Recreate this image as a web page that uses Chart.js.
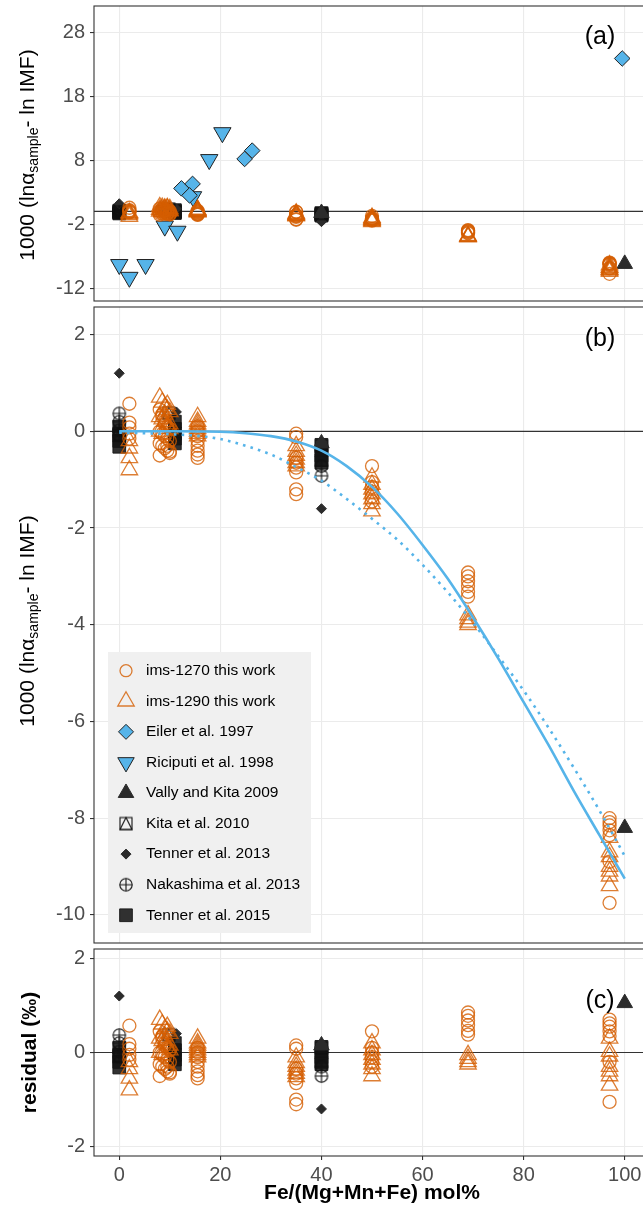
<!DOCTYPE html>
<html>
<head>
<meta charset="utf-8">
<script src="https://cdn.jsdelivr.net/npm/chart.js@4.4.1/dist/chart.umd.min.js"></script>
<style>
  html, body { margin: 0; padding: 0; background: #fff; overflow: hidden; }
  #wrap { position: relative; width: 643px; height: 1210px; overflow: hidden;
          font-family: 'Liberation Sans', Arial, Helvetica, sans-serif; }
  canvas.panel { position: absolute; left: 0; }
  .ytitle { position: absolute; transform: translate(-50%, -50%) rotate(-90deg);
            white-space: nowrap; font-size: 21px; color: #000; }
  .ytitle sub { font-size: 14px; vertical-align: -4px; line-height: 0; }
  .tag { position: absolute; transform: translate(-50%, -50%); font-size: 25px; color: #000; }
</style>
</head>
<body>
<div id="wrap">
  <canvas id="chartA" class="panel" width="660" height="304" style="top:0px"></canvas>
  <canvas id="chartB" class="panel" width="660" height="642" style="top:304px"></canvas>
  <canvas id="chartC" class="panel" width="660" height="264" style="top:946px"></canvas>
  <div class="ytitle" style="left:27px; top:155px">1000 (lnα<sub>sample</sub>- ln IMF)</div>
  <div class="ytitle" style="left:27px; top:621px">1000 (lnα<sub>sample</sub>- ln IMF)</div>
  <div class="tag" style="left:600px; top:35px">(a)</div>
  <div class="tag" style="left:600px; top:337px">(b)</div>
  <div class="tag" style="left:600px; top:999px">(c)</div>
</div>
<script>
const FONT = "'Liberation Sans', Arial, Helvetica, sans-serif";

// tick labels
const xTicks = [0, 20, 40, 60, 80, 100];
const yTicksA = [-12, -2, 8, 18, 28];
const yTicksB = [-10, -8, -6, -4, -2, 0, 2];
const yTicksC = [-2, 0, 2];

// ims-1270 this work
const ims1270X = [2, 2, 2, 2, 2,
  8, 8.5, 9, 9.5, 10, 8, 8.5, 9, 9.5, 10, 8, 8.5, 9, 9.5, 10, 8, 8.5, 9, 9.5, 10,
  15.5, 15.5, 15.5, 15.5, 15.5, 15.5, 15.5, 15.5,
  35, 35, 35, 35, 35, 35, 35, 35,
  50, 50, 50, 50, 50, 50,
  69, 69, 69, 69, 69, 69,
  97, 97, 97, 97, 97, 97, 97];
const ims1270Y = [0.57, 0.18, 0.08, -0.05, -0.15,
  0.45, 0.3, 0.2, 0.1, 0.05, 0, -0.05, -0.1, -0.15, -0.2, -0.25, -0.3, -0.35, -0.4, -0.45, -0.5, 0.35, 0.15, -0.3, -0.42,
  0.1, 0, -0.1, -0.2, -0.3, -0.4, -0.48, -0.55,
  -0.05, -0.12, -0.55, -0.65, -0.75, -0.85, -1.2, -1.3,
  -0.72, -1.05, -1.15, -1.25, -1.35, -1.45,
  -2.92, -3.0, -3.1, -3.2, -3.32, -3.42,
  -8.0, -8.08, -8.15, -8.25, -8.35, -8.9, -9.75];
const ims1270Res = [0.57, 0.18, 0.08, -0.05, -0.15,
  0.45, 0.3, 0.2, 0.1, 0.05, 0, -0.05, -0.1, -0.15, -0.2, -0.25, -0.3, -0.35, -0.4, -0.45, -0.5, 0.35, 0.15, -0.3, -0.42,
  0.1, 0, -0.1, -0.2, -0.3, -0.4, -0.48, -0.55,
  0.15, 0.08, -0.35, -0.45, -0.55, -0.65, -1.0, -1.1,
  0.45, 0.1, 0, -0.1, -0.2, -0.3,
  0.85, 0.78, 0.68, 0.58, 0.46, 0.38,
  0.7, 0.62, 0.55, 0.45, 0.35, -0.2, -1.05];

// ims-1290 this work
const ims1290X = [2, 2, 2, 2,
  8, 8.5, 9, 9.5, 10, 8, 8.5, 9, 9.5, 10, 8, 8.5, 9, 9.5, 10,
  15.5, 15.5, 15.5, 15.5, 15.5, 15.5, 15.5, 15.5,
  35, 35, 35, 35, 35, 35,
  50, 50, 50, 50, 50, 50, 50,
  69, 69, 69, 69,
  97, 97, 97, 97, 97, 97, 97];
const ims1290Y = [-0.2, -0.35, -0.55, -0.8,
  0.7, 0.6, 0.5, 0.45, 0.4, 0.3, 0.25, 0.2, 0.1, 0.05, 0, -0.05, 0.35, 0.55, 0.15,
  0.3, 0.2, 0.15, 0.1, 0.05, 0, -0.05, -0.1,
  -0.3, -0.42, -0.5, -0.58, -0.65, -0.72,
  -0.95, -1.1, -1.2, -1.3, -1.4, -1.5, -1.65,
  -3.8, -3.88, -3.95, -4.0,
  -8.4, -8.7, -8.8, -9.0, -9.1, -9.2, -9.4];
const ims1290Res = [-0.2, -0.35, -0.55, -0.8,
  0.7, 0.6, 0.5, 0.45, 0.4, 0.3, 0.25, 0.2, 0.1, 0.05, 0, -0.05, 0.35, 0.55, 0.15,
  0.3, 0.2, 0.15, 0.1, 0.05, 0, -0.05, -0.1,
  -0.1, -0.22, -0.3, -0.38, -0.45, -0.52,
  0.2, 0.05, -0.05, -0.15, -0.25, -0.35, -0.5,
  -0.05, -0.13, -0.2, -0.25,
  0.3, 0.02, -0.08, -0.3, -0.4, -0.5, -0.7];

// literature data, only shown in (a)
const eilerX = [12.3, 14.5, 13.9, 24.8, 26.3, 99.5];
const eilerY = [3.6, 4.3, 2.5, 8.2, 9.5, 23.9];
const riciputiX = [0, 2, 5.2, 9, 9.1, 11.5, 14.6, 17.8, 20.4];
const riciputiY = [-8.3, -10.3, -8.3, -2.3, 0.2, -3.1, 2.3, 8.1, 12.3];

const vallyX = [40, 100];
const vallyY = [-0.25, -8.2];
const vallyRes = [0.15, 1.05];

const kitaX = [0, 9.8, 40];
const kitaY = [-0.08, 0.38, -0.3];
const kitaRes = [-0.08, 0.38, 0.1];

const tenner13X = [0, 11.3, 40];
const tenner13Y = [1.2, 0.4, -1.6];
const tenner13Res = [1.2, 0.4, -1.2];

const nakashimaX = [0, 0, 0, 0, 40, 40];
const nakashimaY = [0.37, 0.2, 0.02, -0.08, -0.72, -0.92];
const nakashimaRes = [0.37, 0.2, 0.02, -0.08, -0.3, -0.5];

const tenner15X = [0, 0, 0, 0, 11, 11, 11, 11, 11, 40, 40, 40, 40, 40];
const tenner15Y = [0.1, -0.05, -0.2, -0.32, 0.2, 0.05, -0.05, -0.15, -0.25, -0.28, -0.4, -0.5, -0.6, -0.65];
const tenner15Res = [0.1, -0.05, -0.2, -0.32, 0.2, 0.05, -0.05, -0.15, -0.25, 0.12, 0, -0.1, -0.2, -0.25];

// calibration curves in (b)
const fitX = [0, 10, 20, 25, 30, 35, 40, 45, 50, 55, 60, 65, 70, 75, 80, 85, 90, 95, 100];
const fitY = [0, 0, -0.01, -0.04, -0.1, -0.21, -0.4, -0.72, -1.15, -1.7, -2.35, -3.05, -3.85, -4.7, -5.6, -6.5, -7.45, -8.35, -9.25];
const altFitX = [0, 5, 10, 15, 20, 25, 30, 35, 40, 45, 50, 55, 60, 65, 70, 75, 80, 85, 90, 95, 100];
const altFitY = [-0.03, -0.04, -0.06, -0.09, -0.16, -0.3, -0.48, -0.74, -1.02, -1.4, -1.81, -2.24, -2.76, -3.33, -3.96, -4.65, -5.36, -6.14, -6.97, -7.84, -8.78];

// symbols that Chart.js does not have built in
function makeSymbol(size, draw) {
  const c = document.createElement('canvas');
  c.width = c.height = size;
  const g = c.getContext('2d');
  g.strokeStyle = '#111';
  g.lineWidth = 1.1;
  draw(g, size / 2);
  return c;
}
const circlePlus = makeSymbol(16, (g, m) => {
  g.beginPath(); g.arc(m, m, 6.2, 0, Math.PI * 2); g.stroke();
  g.beginPath();
  g.moveTo(m - 6.2, m); g.lineTo(m + 6.2, m);
  g.moveTo(m, m - 6.2); g.lineTo(m, m + 6.2);
  g.stroke();
});
const squareTriangle = makeSymbol(16, (g, m) => {
  g.strokeRect(m - 6, m - 6, 12, 12);
  g.beginPath();
  g.moveTo(m, m - 6); g.lineTo(m - 6, m + 6); g.lineTo(m + 6, m + 6); g.closePath();
  g.stroke();
});

const ORANGE = 'rgba(213,94,0,0.8)';
const BLUE = '#56B4E9';
const DARK = '#2b2b2b';

const styles = {
  ims1270: { pointStyle: 'circle', radius: 6.5, backgroundColor: 'rgba(0,0,0,0)', borderColor: ORANGE, borderWidth: 1.3, legendRadius: 6 },
  ims1290: { pointStyle: 'triangle', radius: 9.5, backgroundColor: 'rgba(0,0,0,0)', borderColor: ORANGE, borderWidth: 1.3, legendRadius: 9.5 },
  eiler: { pointStyle: 'rectRot', radius: 7.8, backgroundColor: BLUE, borderColor: '#222', borderWidth: 1, legendRadius: 7.5 },
  riciputi: { pointStyle: 'triangle', rotation: 180, radius: 10, backgroundColor: BLUE, borderColor: '#222', borderWidth: 1, legendRadius: 9.5 },
  vally: { pointStyle: 'triangle', radius: 9, backgroundColor: DARK, borderColor: DARK, borderWidth: 1, legendRadius: 9 },
  kita: { pointStyle: squareTriangle, radius: 7, backgroundColor: 'rgba(0,0,0,0)', borderColor: '#111', borderWidth: 1, legendRadius: 7 },
  tenner13: { pointStyle: 'rectRot', radius: 5, backgroundColor: DARK, borderColor: DARK, borderWidth: 1, legendRadius: 5 },
  nakashima: { pointStyle: circlePlus, radius: 7, backgroundColor: 'rgba(0,0,0,0)', borderColor: '#111', borderWidth: 1, legendRadius: 7 },
  tenner15: { pointStyle: 'rect', radius: 9, backgroundColor: 'rgba(20,20,20,0.88)', borderColor: 'rgba(20,20,20,0.88)', borderWidth: 1, legendRadius: 9 }
};

const legendItems = [
  ['ims-1270 this work', styles.ims1270],
  ['ims-1290 this work', styles.ims1290],
  ['Eiler et al. 1997', styles.eiler],
  ['Riciputi et al. 1998', styles.riciputi],
  ['Vally and Kita 2009', styles.vally],
  ['Kita et al. 2010', styles.kita],
  ['Tenner et al. 2013', styles.tenner13],
  ['Nakashima et al. 2013', styles.nakashima],
  ['Tenner et al. 2015', styles.tenner15]
];

function pts(xs, ys) {
  return xs.map((x, i) => ({ x: x, y: ys[i] }));
}

function scatterSet(label, xs, ys, st) {
  return {
    type: 'scatter',
    label: label,
    data: pts(xs, ys),
    pointStyle: st.pointStyle,
    rotation: st.rotation || 0,
    pointRadius: st.radius,
    backgroundColor: st.backgroundColor,
    borderColor: st.borderColor,
    borderWidth: st.borderWidth,
    order: 5
  };
}

// panel frame and the zero reference line
const panelFrame = {
  id: 'panelFrame',
  beforeDatasetsDraw(chart) {
    const { ctx, chartArea: a, scales: { y } } = chart;
    const py = y.getPixelForValue(0);
    ctx.save();
    ctx.strokeStyle = '#333';
    ctx.lineWidth = 1.2;
    ctx.beginPath();
    ctx.moveTo(a.left, py);
    ctx.lineTo(a.right, py);
    ctx.stroke();
    ctx.restore();
  },
  afterDraw(chart) {
    const { ctx, chartArea: a } = chart;
    ctx.save();
    ctx.strokeStyle = '#333';
    ctx.lineWidth = 1.1;
    ctx.strokeRect(a.left, a.top, a.right - a.left, a.bottom - a.top);
    ctx.restore();
  }
};

// legend box drawn inside panel (b)
const legendBox = {
  id: 'legendBox',
  afterDraw(chart) {
    const ctx = chart.ctx;
    const left = 108, top = 348, width = 203, height = 281;
    ctx.save();
    ctx.fillStyle = '#f0f0f0';
    ctx.fillRect(left, top, width, height);
    legendItems.forEach(([label, st], i) => {
      const cy = top + 18.7 + i * 30.57;
      ctx.fillStyle = st.backgroundColor;
      ctx.strokeStyle = st.borderColor;
      ctx.lineWidth = st.borderWidth;
      Chart.helpers.drawPoint(ctx, {
        pointStyle: st.pointStyle,
        radius: st.legendRadius,
        rotation: st.rotation || 0,
        borderWidth: st.borderWidth
      }, left + 18, cy);
      ctx.fillStyle = '#000';
      ctx.font = '15.5px ' + FONT;
      ctx.textBaseline = 'middle';
      ctx.textAlign = 'left';
      ctx.fillText(label, left + 38, cy);
    });
    ctx.restore();
  }
};

function setTicks(values) {
  return scale => { scale.ticks = values.map(v => ({ value: v })); };
}

// keep tick labels from pushing the plot area around
function noEdgePadding(s) {
  s.paddingTop = 0;
  s.paddingBottom = 0;
  s.paddingLeft = 0;
  s.paddingRight = 0;
}

function xScale(showLabels) {
  return {
    type: 'linear',
    min: -5,
    max: 105,
    afterBuildTicks: setTicks(xTicks),
    afterFit: s => { s.height = showLabels ? 54 : 0; noEdgePadding(s); },
    border: { display: false },
    grid: { color: '#ebebeb', lineWidth: 1.1, drawTicks: showLabels, tickColor: '#333', tickLength: 4 },
    ticks: {
      display: showLabels,
      color: '#4d4d4d',
      padding: 3,
      maxRotation: 0,
      font: { family: FONT, size: 20 }
    },
    title: {
      display: showLabels,
      text: 'Fe/(Mg+Mn+Fe) mol%',
      color: '#000',
      font: { family: FONT, size: 21, weight: 'bold' },
      padding: { top: 0, bottom: 4 }
    }
  };
}

function yScale(min, max, ticks, title) {
  return {
    type: 'linear',
    min: min,
    max: max,
    afterBuildTicks: setTicks(ticks),
    afterFit: s => { s.width = 94; noEdgePadding(s); },
    border: { display: false },
    grid: { color: '#ebebeb', lineWidth: 1.1, tickColor: '#333', tickLength: 4 },
    ticks: {
      color: '#4d4d4d',
      padding: 5,
      font: { family: FONT, size: 20 }
    },
    title: {
      display: !!title,
      text: title || '',
      color: '#000',
      font: { family: FONT, size: 21, weight: 'bold' },
      padding: { top: 18, bottom: 0 }
    }
  };
}

function options(padTop, padBottom, x, y) {
  return {
    responsive: false,
    animation: false,
    events: [],
    layout: { autoPadding: false, padding: { top: padTop, right: 10, bottom: padBottom, left: 0 } },
    plugins: { legend: { display: false }, tooltip: { enabled: false } },
    scales: { x: x, y: y }
  };
}

function fitLine(xs, ys, dashed) {
  return {
    type: 'line',
    data: pts(xs, ys),
    borderColor: BLUE,
    borderWidth: 2.6,
    borderDash: dashed ? [2.6, 5.2] : [],
    pointRadius: 0,
    cubicInterpolationMode: 'monotone',
    fill: false,
    order: 1
  };
}

// (a) all data
new Chart(document.getElementById('chartA'), {
  type: 'scatter',
  data: {
    datasets: [
      scatterSet('ims-1270 this work', ims1270X, ims1270Y, styles.ims1270),
      scatterSet('ims-1290 this work', ims1290X, ims1290Y, styles.ims1290),
      scatterSet('Vally and Kita 2009', vallyX, vallyY, styles.vally),
      scatterSet('Kita et al. 2010', kitaX, kitaY, styles.kita),
      scatterSet('Tenner et al. 2013', tenner13X, tenner13Y, styles.tenner13),
      scatterSet('Nakashima et al. 2013', nakashimaX, nakashimaY, styles.nakashima),
      scatterSet('Tenner et al. 2015', tenner15X, tenner15Y, styles.tenner15),
      scatterSet('Eiler et al. 1997', eilerX, eilerY, styles.eiler),
      scatterSet('Riciputi et al. 1998', riciputiX, riciputiY, styles.riciputi)
    ]
  },
  options: options(6, 3, xScale(false), yScale(-14.0, 32.1, yTicksA)),
  plugins: [panelFrame]
});

// (b) without Eiler and Riciputi, with the two calibration curves
new Chart(document.getElementById('chartB'), {
  type: 'scatter',
  data: {
    datasets: [
      scatterSet('ims-1270 this work', ims1270X, ims1270Y, styles.ims1270),
      scatterSet('ims-1290 this work', ims1290X, ims1290Y, styles.ims1290),
      scatterSet('Vally and Kita 2009', vallyX, vallyY, styles.vally),
      scatterSet('Kita et al. 2010', kitaX, kitaY, styles.kita),
      scatterSet('Tenner et al. 2013', tenner13X, tenner13Y, styles.tenner13),
      scatterSet('Nakashima et al. 2013', nakashimaX, nakashimaY, styles.nakashima),
      scatterSet('Tenner et al. 2015', tenner15X, tenner15Y, styles.tenner15),
      fitLine(fitX, fitY, false),
      fitLine(altFitX, altFitY, true)
    ]
  },
  options: options(3, 3, xScale(false), yScale(-10.58, 2.57, yTicksB)),
  plugins: [panelFrame, legendBox]
});

// (c) residuals from the fitted curve
new Chart(document.getElementById('chartC'), {
  type: 'scatter',
  data: {
    datasets: [
      scatterSet('ims-1270 this work', ims1270X, ims1270Res, styles.ims1270),
      scatterSet('ims-1290 this work', ims1290X, ims1290Res, styles.ims1290),
      scatterSet('Vally and Kita 2009', vallyX, vallyRes, styles.vally),
      scatterSet('Kita et al. 2010', kitaX, kitaRes, styles.kita),
      scatterSet('Tenner et al. 2013', tenner13X, tenner13Res, styles.tenner13),
      scatterSet('Nakashima et al. 2013', nakashimaX, nakashimaRes, styles.nakashima),
      scatterSet('Tenner et al. 2015', tenner15X, tenner15Res, styles.tenner15)
    ]
  },
  options: options(3, 0, xScale(true), yScale(-2.2, 2.2, yTicksC, 'residual (‰)')),
  plugins: [panelFrame]
});
</script>
</body>
</html>
